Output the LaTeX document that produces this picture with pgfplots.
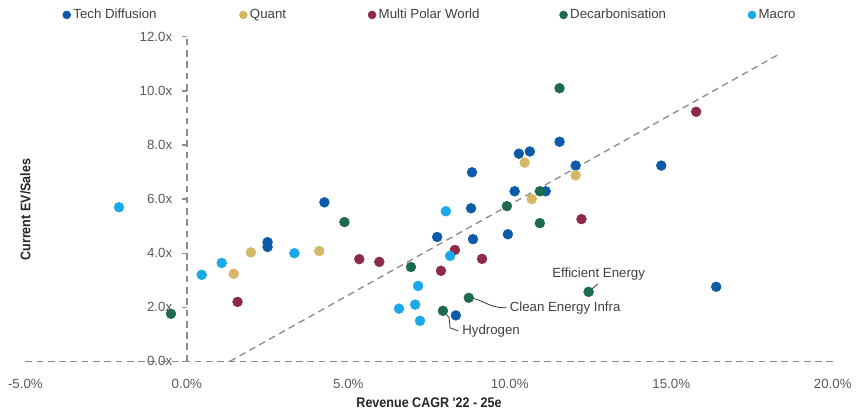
\documentclass[border=0pt]{standalone}
\usepackage{fontspec}
\setmainfont{Liberation Sans}
\newfontfamily\labelfamily{Liberation Sans}[FakeStretch=0.9]
\usepackage{pgfplots}
\pgfplotsset{compat=1.18}

\definecolor{techblue}{HTML}{0C5BAA}
\definecolor{quantgold}{HTML}{D6B765}
\definecolor{polarred}{HTML}{8E2A47}
\definecolor{decarbgreen}{HTML}{1D6B4E}
\definecolor{macroblue}{HTML}{19A8E8}
\definecolor{axisgray}{HTML}{8C8C8C}
\definecolor{ticktext}{HTML}{595959}
\definecolor{labeltext}{HTML}{262626}
\definecolor{notetext}{HTML}{404040}

\newcommand{\lfont}{\fontsize{10}{12}\selectfont}
\newcommand{\bfont}{\labelfamily\fontsize{10.5}{12.5}\selectfont\bfseries}

\begin{document}
\begin{tikzpicture}
\begin{axis}[
  name=ax,
  scale only axis,
  width=608.25pt, height=244.5pt,
  xmin=-5, xmax=20, ymin=0, ymax=12,
  axis lines=middle,
  axis line style={-, axisgray, line width=1pt, dash pattern=on 5pt off 3.5pt},
  xtick={-5,0,5,10,15,20},
  ytick={0,2,4,6,8,10,12},
  extra x ticks={0}, extra y ticks={0},
  extra tick style={grid=none},
  x tick style={draw=none},
  y tick style={axisgray, line width=1pt},
  tick align=outside,
  major tick length=4pt,
  /pgf/number format/assume math mode=true,
  xticklabel={\pgfmathprintnumber[fixed,fixed zerofill,precision=1]{\tick}\%},
  yticklabel={\pgfmathprintnumber[fixed,fixed zerofill,precision=1]{\tick}x},
  xticklabel style={font=\lfont, text=ticktext, yshift=-6pt},
  yticklabel style={font=\lfont, text=ticktext, xshift=-3.5pt},
  every axis x label/.style={at={(rel axis cs:0.5,0)}, anchor=center, yshift=-30.75pt},
  every axis y label/.style={at={(rel axis cs:0,0.5)}, anchor=center, rotate=90, xshift=-7.9pt},
  xlabel={\bfont Revenue CAGR '22 - 25e},
  ylabel={\bfont Current EV/Sales},
  label style={text=labeltext},
  legend columns=5,
  legend style={at={(rel axis cs:0,1)}, anchor=west, xshift=28pt, yshift=16.5pt,
    draw=none, fill=none, inner sep=0pt, font=\lfont, text=notetext,
    /tikz/every even column/.style={column sep=0pt}},
  legend cell align=left,
  legend image code/.code={\draw[#1, mark size=3pt] plot coordinates {(0pt,0pt)};},
  every axis plot/.append style={only marks, mark=*, mark size=3.7pt},
  clip=false,
]

% Tech Diffusion
\addplot[techblue, mark options={fill=techblue}] coordinates {
  (4.26,5.88) (2.50,4.41) (2.50,4.23) (7.75,4.60) (8.83,6.99) (8.80,5.66)
  (8.86,4.52) (9.94,4.70) (10.15,6.29) (10.28,7.68) (10.62,7.76) (11.11,6.29)
  (11.54,8.12) (12.04,7.24) (14.69,7.24) (16.39,2.76) (8.33,1.70)
};
\addlegendentry{\makebox[123pt][l]{Tech Diffusion}}

% Quant
\addplot[quantgold, mark options={fill=quantgold}] coordinates {
  (1.45,3.24) (1.98,4.03) (4.10,4.08) (10.46,7.35) (10.68,6.00) (12.04,6.88)
};
\addlegendentry{\makebox[87pt][l]{Quant}}

% Multi Polar World
\addplot[polarred, mark options={fill=polarred}] coordinates {
  (1.57,2.20) (5.34,3.78) (5.96,3.68) (7.87,3.35) (8.30,4.12) (9.14,3.79)
  (12.22,5.26) (15.77,9.23)
};
\addlegendentry{\makebox[134.25pt][l]{Multi Polar World}}

% Decarbonisation
\addplot[decarbgreen, mark options={fill=decarbgreen}] coordinates {
  (-0.49,1.76) (4.88,5.15) (6.94,3.49) (7.93,1.87) (8.73,2.35) (9.91,5.74)
  (10.93,6.29) (10.93,5.11) (11.54,10.10) (12.44,2.57)
};
\addlegendentry{\makebox[132pt][l]{Decarbonisation}}

% Macro
\addplot[macroblue, mark options={fill=macroblue}] coordinates {
  (-2.10,5.70) (0.46,3.20) (1.08,3.64) (3.33,4.00) (6.57,1.95) (7.07,2.10)
  (7.16,2.79) (7.22,1.50) (8.02,5.55) (8.15,3.90)
};
\addlegendentry{Macro}

% trend line
\addplot[no marks, sharp plot, axisgray, line width=1pt, dash pattern=on 5pt off 3.5pt, forget plot]
  coordinates {(1.33,0) (18.40,11.4)};

% callouts
\draw[black!80, line width=0.6pt] (axis cs:12.44,2.57) -- (axis cs:12.72,2.86);
\node[font=\lfont, text=notetext, anchor=center] at (axis cs:12.75,3.22) {Efficient Energy};

\draw[black!80, line width=0.6pt] (axis cs:8.73,2.35) .. controls (axis cs:9.2,2.30) and (axis cs:9.3,1.98) .. (axis cs:9.9,1.98);
\node[font=\lfont, text=notetext, anchor=west, inner sep=1pt] at (axis cs:9.95,1.98) {Clean Energy Infra};

\draw[black!80, line width=0.6pt] (axis cs:7.93,1.87) -- (axis cs:8.12,1.62) -- (axis cs:8.15,1.24) -- (axis cs:8.40,1.13);
\node[font=\lfont, text=notetext, anchor=west, inner sep=1pt] at (axis cs:8.48,1.13) {Hydrogen};
\end{axis}
\path ([shift={(-19.1pt,-37.5pt)}]ax.south west) rectangle ([shift={(14.25pt,27.75pt)}]ax.north east);
\end{tikzpicture}
\end{document}
